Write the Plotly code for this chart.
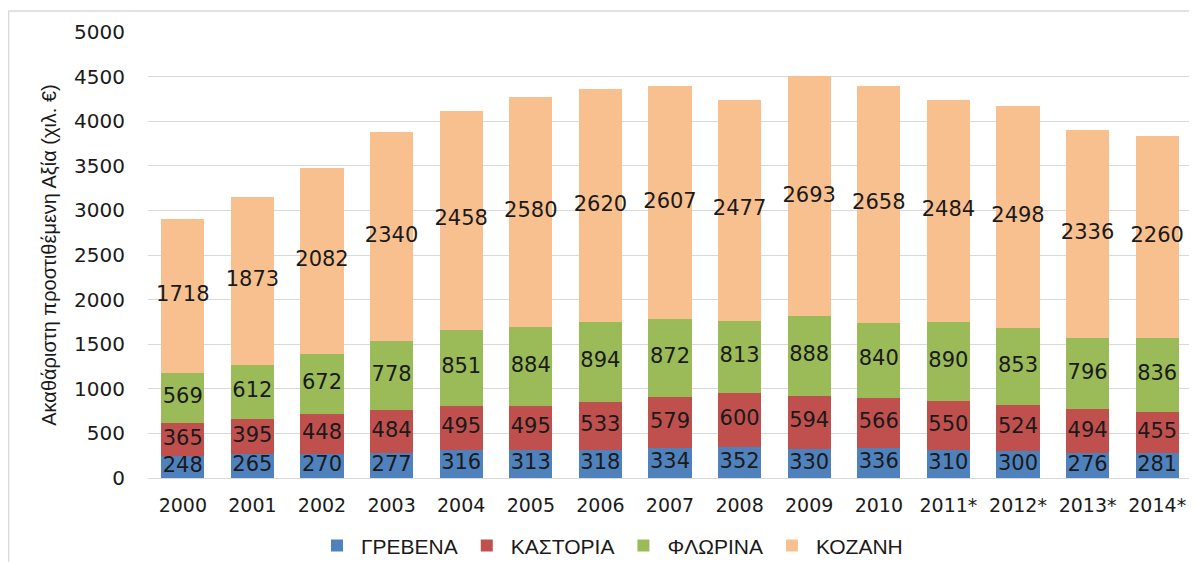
import plotly.graph_objects as go

years = ["2000", "2001", "2002", "2003", "2004", "2005", "2006", "2007",
         "2008", "2009", "2010", "2011*", "2012*", "2013*", "2014*"]
grevena = [248, 265, 270, 277, 316, 313, 318, 334, 352, 330, 336, 310, 300, 276, 281]
kastoria = [365, 395, 448, 484, 495, 495, 533, 579, 600, 594, 566, 550, 524, 494, 455]
florina = [569, 612, 672, 778, 851, 884, 894, 872, 813, 888, 840, 890, 853, 796, 836]
kozani = [1718, 1873, 2082, 2340, 2458, 2580, 2620, 2607, 2477, 2693, 2658, 2484, 2498, 2336, 2260]

series = [("ΓΡΕΒΕΝΑ", grevena, "#4F81BD"),
          ("ΚΑΣΤΟΡΙΑ", kastoria, "#C0504D"),
          ("ΦΛΩΡΙΝΑ", florina, "#9BBB59"),
          ("ΚΟΖΑΝΗ", kozani, "#F9C08F")]

fig = go.Figure()
base = [0] * len(years)
label_x, label_y, label_t = [], [], []
for name, vals, col in series:
    fig.add_trace(go.Bar(x=years, y=vals, name=name, marker_color=col,
                         marker_line_width=0, textposition="none"))
    for i, v in enumerate(vals):
        label_x.append(years[i])
        label_y.append(base[i] + v / 2)
        label_t.append(str(v))
        base[i] += v

fig.add_trace(go.Scatter(x=label_x, y=label_y, text=label_t, mode="text",
                         textfont=dict(family="DejaVu Sans", size=21, color="#1a1a1a"),
                         showlegend=False, hoverinfo="skip", cliponaxis=False))

fig.update_layout(
    barmode="stack",
    bargap=0.38,
    width=1189, height=554,
    margin=dict(l=140, r=5, t=24, b=84, autoexpand=False),
    paper_bgcolor="white", plot_bgcolor="white",
    font=dict(family="DejaVu Sans", color="#1a1a1a"),
    legend=dict(orientation="h", x=0.443, xanchor="center", y=-0.152, yanchor="middle",
                font=dict(family="Liberation Sans", size=21), traceorder="normal",
                itemwidth=38),
    shapes=[
        dict(type="line", xref="paper", yref="paper", x0=-0.1336, x1=1.01, y0=1.047, y1=1.047,
             line=dict(color="#D9D9D9", width=1.5)),
        dict(type="line", xref="paper", yref="paper", x0=-0.1336, x1=-0.1336, y0=1.047, y1=-0.2,
             line=dict(color="#D9D9D9", width=1.5)),
    ],
)
fig.update_xaxes(range=[-0.5, 14.5], showgrid=False,
                 tickfont=dict(family="DejaVu Sans", size=19),
                 ticklabelstandoff=10, showline=True, linecolor="#D9D9D9", automargin=False)
fig.update_yaxes(range=[0, 5000], dtick=500, showgrid=True, gridcolor="#D9D9D9",
                 gridwidth=1, zeroline=False, automargin=False,
                 tickfont=dict(family="DejaVu Sans", size=20), ticklabelstandoff=22,
                 title=dict(text="Ακαθάριστη προστιθέμενη Αξία (χιλ. €)",
                            font=dict(family="Liberation Sans", size=20), standoff=12))

fig.write_html("out.html")
